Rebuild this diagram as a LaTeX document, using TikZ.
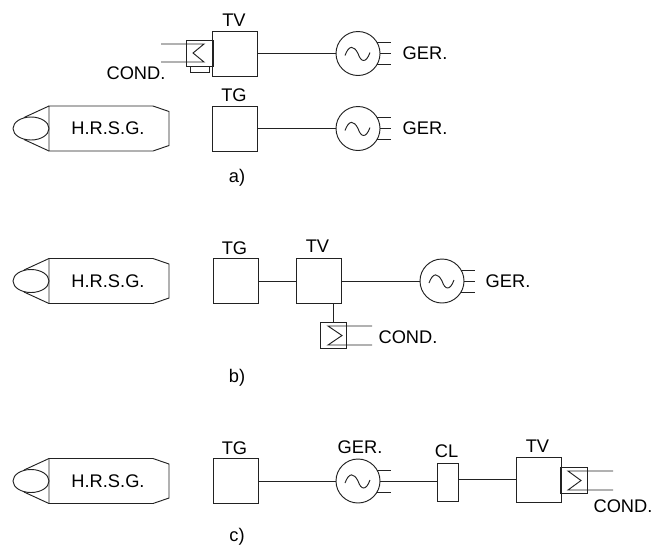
\documentclass[tikz,border=0pt]{standalone}
\usepackage{fontspec}
\setmainfont{Liberation Sans}
\usetikzlibrary{positioning, calc, shapes.geometric}
\definecolor{cline}{HTML}{222222}
\tikzset{
  every picture/.style={x=0.03cm, y=-0.03cm, line width=0.8pt},
  label/.style={font=\fontsize{15.6}{16}\selectfont, text=black, inner sep=0pt},
  tag/.style={label, xshift=-0.03cm},
  box/.style={draw=cline, rectangle, inner sep=0pt, minimum width=1.35cm, minimum height=1.35cm},
  cond/.style={draw=cline, rectangle, inner sep=0pt, minimum width=0.8cm, minimum height=0.8cm},
  gen/.style={draw=cline, circle, inner sep=0pt, minimum size=1.32cm},
  shaft/.style={draw=cline},
}
% boiler with its burner, centred on the y given
\newcommand{\hrsg}[2]{
  \coordinate (#1n) at (49,#2-22.5);
  \coordinate (#1s) at (49,#2+22.5);
  \draw[shaft] (#1n) -- (153,#2-22.5) -- (169,#2-17) -- (169,#2+17) -- (153,#2+22.5) -- (#1s) -- cycle;
  \node[draw=cline, ellipse, inner sep=0pt, minimum width=1.08cm, minimum height=0.69cm] (#1e) at (31,#2) {};
  \draw[shaft] (#1n) -- (24,#2-11);
  \draw[shaft] (#1s) -- (24,#2+11);
  \node[label] (#1t) at (108,#2) {H.R.S.G.};
}
% generator sine wave
\newcommand{\wave}[1]{
  \draw[shaft] ($(#1)+(-13,2)$) .. controls ($(#1)+(-9,-9)$) and ($(#1)+(-4,-8)$) .. ($(#1)+(0,0)$)
    .. controls ($(#1)+(3,9)$) and ($(#1)+(8,10)$) .. ($(#1)+(12,-1)$);
}
% generator terminals
\newcommand{\terms}[2]{
  \foreach \y in {#2} \draw[shaft] ($(#1)+({sqrt(484-(\y)*(\y))},\y)$) -- ($(#1)+(33,\y)$);
}
\begin{document}
\begin{tikzpicture}
  \useasboundingbox (0,0) rectangle (653,547);
  % a)
  \node[box] (tva) at (235,53.5) {};
  \node[tag, above=0.12cm of tva] (tvat) {TV};
  \node[cond, minimum width=0.81cm, minimum height=0.78cm] (ca) at (199.5,53) {};
  \node[draw=cline, rectangle, inner sep=0pt, minimum width=0.57cm, minimum height=0.18cm] (cab) at (199.5,69) {};
  \coordinate (cai) at (161,44); \coordinate (caj) at (161,62);
  \draw[shaft] (cai) -- (204,44) -- (193,53) -- (204,62) -- (caj);
  \node[label] (cat) at (136,73) {COND.};
  \node[gen] (ga) at (358,53.5) {};
  \wave{ga}
  \terms{ga}{-11,0,11}
  \draw[shaft] (tva) -- (ga);
  \node[label] (gat) at (425,53.5) {GER.};
  \hrsg{ha}{128.5}
  \node[box] (tga) at (235,128.5) {};
  \node[tag, above=0.09cm of tga] (tgat) {TG};
  \node[gen] (gb) at (358,128.5) {};
  \wave{gb}
  \terms{gb}{-11,0,11}
  \draw[shaft] (tga) -- (gb);
  \node[label] (gbt) at (425,128.5) {GER.};
  \node[label] (a) at (237,178) {a)};
  % b)
  \hrsg{hb}{281}
  \node[box] (tgb) at (235.5,281) {};
  \node[tag, above=0.09cm of tgb] (tgbt) {TG};
  \node[box] (tvb) at (318.5,281) {};
  \node[tag, above=0.15cm of tvb] (tvbt) {TV};
  \node[gen] (gc) at (442,281) {};
  \wave{gc}
  \terms{gc}{-11,0,11}
  \draw[shaft] (tgb) -- (tvb);
  \draw[shaft] (tvb) -- (gc);
  \node[label] (gct) at (508,281) {GER.};
  \node[cond] (cb) at (333.5,335.5) {};
  \draw[shaft] (tvb.south -| cb) -- (cb);
  \coordinate (cbi) at (372,326); \coordinate (cbj) at (372,345);
  \draw[shaft] (cbi) -- (328,326) -- (342,335.5) -- (328,345) -- (cbj);
  \node[label] (cbt) at (408,337) {COND.};
  \node[label] (b) at (237,378) {b)};
  % c)
  \hrsg{hc}{481}
  \node[box] (tgc) at (235.5,481) {};
  \node[tag, above=0.09cm of tgc] (tgct) {TG};
  \node[gen] (gd) at (358,481) {};
  \wave{gd}
  \terms{gd}{-11,11}
  \node[label] (gdt) at (360,447) {GER.};
  \node[draw=cline, rectangle, inner sep=0pt, minimum width=0.63cm, minimum height=1.14cm] (cl) at (447.5,482) {};
  \node[tag, above=0.12cm of cl] (clt) {CL};
  \node[box] (tvc) at (538.5,479.5) {};
  \node[tag, above=0.12cm of tvc] (tvct) {TV};
  \draw[shaft] (tgc) -- (gd);
  \draw[shaft] (gd) -- (cl.west |- gd);
  \draw[shaft] (cl.east |- tvc) -- (tvc);
  \node[cond, minimum height=0.78cm] (cc) at (574,480) {};
  \coordinate (cci) at (613,471); \coordinate (ccj) at (613,490);
  \draw[shaft] (cci) -- (568,471) -- (581,480.5) -- (568,490) -- (ccj);
  \node[label] (cct) at (623,506) {COND.};
  \node[label] (c) at (237,537) {c)};
\end{tikzpicture}
\end{document}
